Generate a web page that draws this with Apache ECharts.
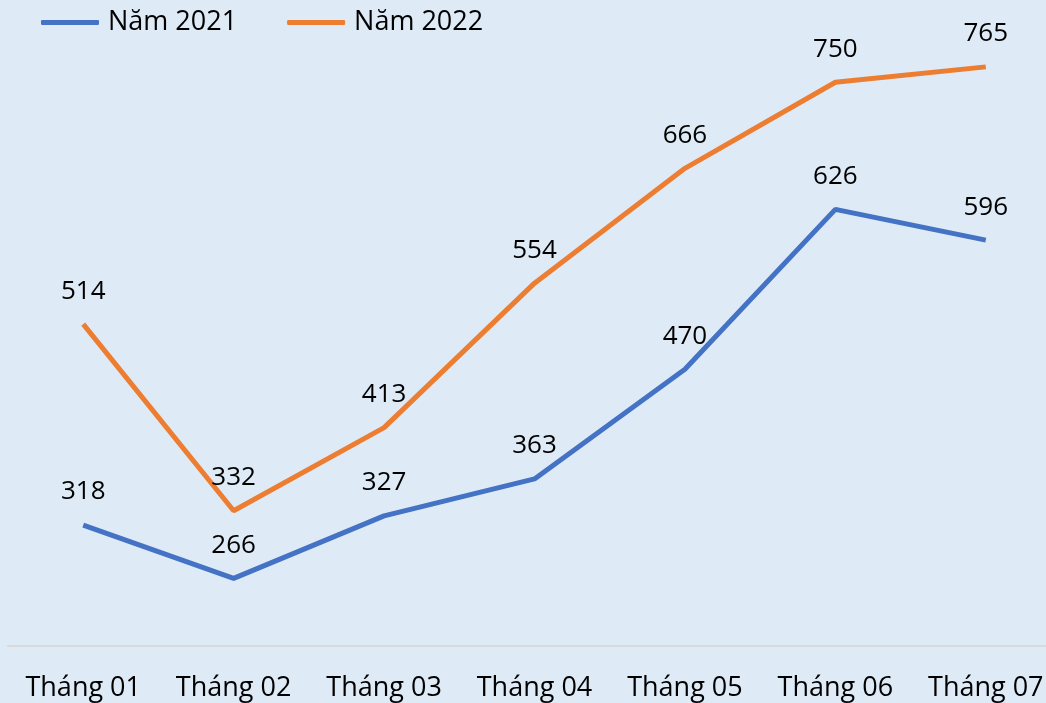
<!DOCTYPE html>
<html>
<head>
<meta charset="utf-8">
<script src="https://cdn.jsdelivr.net/npm/echarts@6/dist/echarts.min.js"></script>
<style>
  html, body { margin: 0; padding: 0; background: #deeaf6; }
  #chart { width: 1046px; height: 703px; }
</style>
</head>
<body>
<div id="chart"></div>
<script>
var months = ['Tháng 01', 'Tháng 02', 'Tháng 03', 'Tháng 04', 'Tháng 05', 'Tháng 06', 'Tháng 07'];
var nam2021 = [318, 266, 327, 363, 470, 626, 596];
var nam2022 = [514, 332, 413, 554, 666, 750, 765];

var font = 'Open Sans, Noto Sans, sans-serif';
var chart = echarts.init(document.getElementById('chart'));
var option = {
  backgroundColor: '#deeaf6',
  animation: false,
  legend: {
    left: 36,
    top: 4,
    itemWidth: 58,
    itemHeight: 5,
    itemGap: 50,
    icon: 'roundRect',
    textStyle: { fontFamily: font, fontSize: 27, color: '#000', padding: [0, 0, 0, 4] },
    data: ['Năm 2021', 'Năm 2022']
  },
  grid: { left: 8, width: 1053, top: 31, height: 615, outerBoundsMode: 'none', containLabel: false },
  xAxis: {
    type: 'category',
    data: months,
    boundaryGap: true,
    axisLine: { lineStyle: { color: '#d9d9d9', width: 2 } },
    axisTick: { show: false },
    axisLabel: { interval: 0, hideOverlap: false, fontFamily: font, fontSize: 27, color: '#000', margin: 29 }
  },
  yAxis: {
    type: 'value',
    min: 200,
    max: 800,
    show: false,
    splitLine: { show: false }
  },
  series: [
    {
      name: 'Năm 2021',
      type: 'line',
      data: nam2021,
      color: '#4472c4',
      lineStyle: { width: 5 },
      symbol: 'circle',
      symbolSize: 0,
      label: { show: true, position: 'top', distance: 20, fontFamily: font, fontSize: 26, color: '#000' }
    },
    {
      name: 'Năm 2022',
      type: 'line',
      data: nam2022,
      color: '#ed7d31',
      lineStyle: { width: 5 },
      symbol: 'circle',
      symbolSize: 0,
      label: { show: true, position: 'top', distance: 20, fontFamily: font, fontSize: 26, color: '#000' }
    }
  ]
};
chart.setOption(option);
</script>
</body>
</html>
